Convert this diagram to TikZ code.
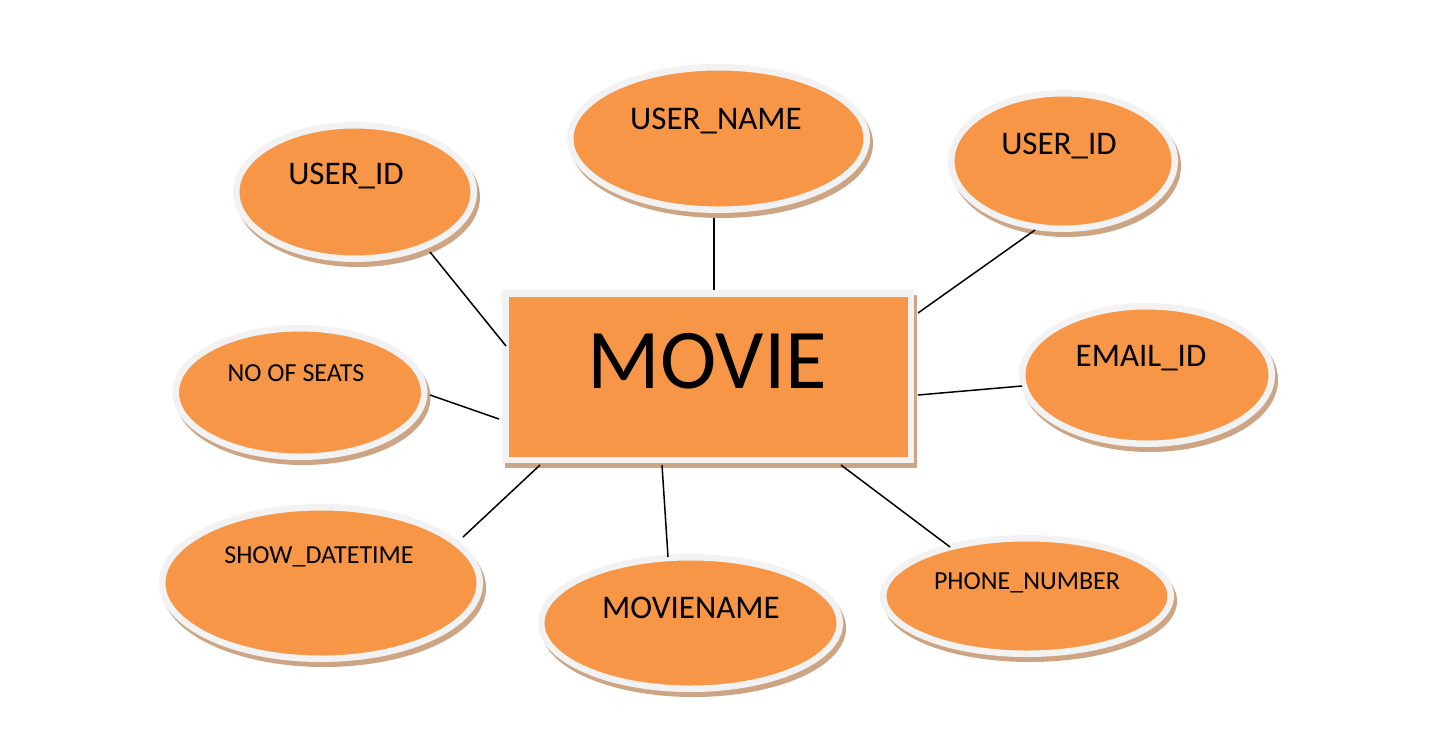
\documentclass[tikz,border=0pt]{standalone}
\usepackage{fontspec}
\setmainfont{Carlito}
\usetikzlibrary{shapes.geometric,shadows}
\definecolor{fillc}{HTML}{F79646}
\definecolor{borderc}{HTML}{F2F2F2}
\definecolor{shadowc}{HTML}{CDA584}
\tikzset{
  shad/.style={general shadow={fill=shadowc, draw=shadowc, line width=6.5pt, shadow xshift=3pt, shadow yshift=-5pt}},
  attr/.style={ellipse, shad, fill=fillc, draw=borderc, line width=6.5pt, inner sep=0pt},
  entity/.style={rectangle, shad, fill=fillc, draw=borderc, line width=6.5pt, inner sep=0pt},
  big/.style={font=\fontsize{33}{33}\selectfont, anchor=base, inner sep=0pt},
  small/.style={font=\fontsize{26}{26}\selectfont, anchor=base, inner sep=0pt},
  conn/.style={draw=black, line width=1.5pt}
}
\begin{document}
\begin{tikzpicture}[x=1pt,y=-1pt]
\useasboundingbox[fill=white] (0,0) rectangle (1439,753);
% entity
\node[entity, minimum width=405.5pt, minimum height=166.5pt] (m) at (708,376.5) {};
\node[font=\fontsize{85}{85}\selectfont, anchor=base, inner sep=0pt] (mt) at (707.5,388) {MOVIE};
% attributes
\node[attr, minimum width=237.5pt, minimum height=133.5pt] (e1) at (355,192) {};
\node[big] (t1) at (346,184.6) {USER\_ID};
\node[attr, minimum width=296.5pt, minimum height=142.5pt] (e2) at (718.5,138.5) {};
\node[big] (t2) at (716,129.1) {USER\_NAME};
\node[attr, minimum width=223.5pt, minimum height=135.5pt] (e3) at (1063,161) {};
\node[big] (t3) at (1059,154.6) {USER\_ID};
\node[attr, minimum width=249.5pt, minimum height=137.5pt] (e4) at (1147,375) {};
\node[big] (t4) at (1141,366.6) {EMAIL\_ID};
\node[attr, minimum width=248.5pt, minimum height=128.5pt] (e5) at (300,392.5) {};
\node[small] (t5) at (296,381.9) {NO OF SEATS};
\node[attr, minimum width=317.5pt, minimum height=151.5pt] (e6) at (321,583) {};
\node[small] (t6) at (319,563.9) {SHOW\_DATETIME};
\node[attr, minimum width=298.5pt, minimum height=131.5pt] (e7) at (690.5,623) {};
\node[big] (t7) at (691,618.1) {MOVIENAME};
\node[attr, minimum width=287.5pt, minimum height=115.5pt] (e8) at (1027,596) {};
\node[small] (t8) at (1027,589.4) {PHONE\_NUMBER};
% connectors
\draw[conn] ([xshift=75pt,yshift=-60pt]e1.center) -- ([xshift=4pt,yshift=30.5pt]m.west);
\draw[conn] ([xshift=-4.5pt,yshift=-79.5pt]e2.center) -- ([xshift=6pt]m.north);
\draw[conn] ([xshift=-28pt,yshift=-69pt]e3.center) -- ([xshift=4pt,yshift=63.5pt]m.east);
\draw[conn] ([xshift=-125pt,yshift=-11pt]e4.center) -- ([xshift=4pt,yshift=-18.5pt]m.east);
\draw[conn] ([xshift=130pt,yshift=-2.5pt]e5.center) -- ([xshift=-3pt,yshift=-42.5pt]m.west);
\draw[conn] ([xshift=142pt,yshift=46pt]e6.center) -- ([xshift=-168pt,yshift=-2pt]m.south);
\draw[conn] ([xshift=-22.5pt,yshift=66pt]e7.center) -- ([xshift=-46pt,yshift=-2pt]m.south);
\draw[conn] ([xshift=-77pt,yshift=49pt]e8.center) -- ([xshift=133pt,yshift=-2pt]m.south);
\end{tikzpicture}
\end{document}
